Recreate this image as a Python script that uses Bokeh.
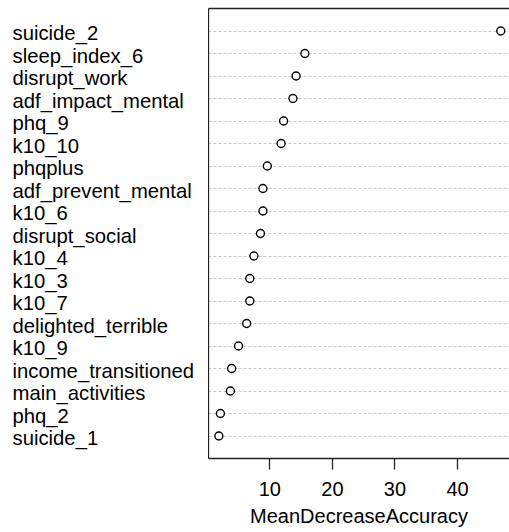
from bokeh.plotting import figure
from bokeh.layouts import row
from bokeh.models import Range1d, FixedTicker, LinearAxis, ColumnDataSource
from bokeh.core.properties import value
from bokeh.embed import file_html
from bokeh.resources import INLINE

# Variable importance, listed top to bottom
variables = [
    "suicide_2", "sleep_index_6", "disrupt_work", "adf_impact_mental", "phq_9",
    "k10_10", "phqplus", "adf_prevent_mental", "k10_6", "disrupt_social",
    "k10_4", "k10_3", "k10_7", "delighted_terrible", "k10_9",
    "income_transitioned", "main_activities", "phq_2", "suicide_1",
]
mean_decrease_accuracy = [
    46.9, 15.6, 14.2, 13.7, 12.2,
    11.8, 9.6, 8.9, 8.9, 8.5,
    7.45, 6.8, 6.8, 6.3, 5.0,
    3.9, 3.7, 2.1, 1.85,
]
x_ticks = [10, 20, 30, 40]

n = len(variables)
rows = [n - i for i in range(n)]  # top variable gets the highest row

src = ColumnDataSource(dict(x=mean_decrease_accuracy, y=rows, name=variables))

FONT = "Liberation Sans"
LABEL_W = 208
TOP, BOTTOM = 8, 74

# ---- panel holding the variable names ----
names = figure(
    width=LABEL_W, height=532,
    x_range=Range1d(0, LABEL_W), y_range=Range1d(0, n + 1),
    output_backend="svg", toolbar_location=None,
    x_axis_location=None, y_axis_location=None,
    min_border_left=0, min_border_right=0, min_border_top=TOP, min_border_bottom=BOTTOM,
)
names.outline_line_color = None
names.grid.visible = False
names.text(x=12, y="y", text="name", source=src,
           text_font=value(FONT), text_font_size="20.3px", text_color="black",
           text_align="left", text_baseline="middle", y_offset=2)

# ---- dot chart ----
p = figure(
    width=509 - LABEL_W, height=532,
    x_range=Range1d(0.2, 48.3), y_range=Range1d(0, n + 1),
    output_backend="svg", toolbar_location=None,
    min_border_left=0, min_border_right=0, min_border_top=TOP, min_border_bottom=BOTTOM,
)
p.outline_line_color = None
p.background_fill_color = "white"
p.border_fill_color = "white"

# dotted guide line for every variable
p.xgrid.visible = False
p.ygrid.ticker = FixedTicker(ticks=rows)
p.ygrid.grid_line_color = "#c8c8c8"
p.ygrid.grid_line_dash = "3 2"
p.ygrid.grid_line_width = 1

# left border (no ticks)
ya = p.left[0]
ya.ticker = FixedTicker(ticks=[])
ya.major_tick_out = 0
ya.major_tick_in = 0
ya.minor_tick_out = 0
ya.minor_tick_in = 0
ya.major_label_text_font_size = "0px"
ya.axis_line_color = "#222222"
ya.axis_line_width = 1.3

# bottom axis
xa = p.below[0]
xa.ticker = FixedTicker(ticks=x_ticks)
xa.major_tick_out = 11
xa.major_tick_in = 0
xa.minor_tick_out = 0
xa.minor_tick_in = 0
xa.major_tick_line_color = "#222222"
xa.major_tick_line_width = 1.3
xa.axis_line_color = "#222222"
xa.axis_line_width = 1.3
xa.major_label_text_font = FONT
xa.major_label_text_font_size = "20px"
xa.major_label_text_color = "black"
xa.major_label_standoff = 12
xa.axis_label = "MeanDecreaseAccuracy"
xa.axis_label_text_font = FONT
xa.axis_label_text_font_size = "20px"
xa.axis_label_text_font_style = "normal"
xa.axis_label_text_color = "black"
xa.axis_label_standoff = 6

# top border
top = LinearAxis(ticker=FixedTicker(ticks=[]), major_tick_out=0, major_tick_in=0,
                 minor_tick_out=0, minor_tick_in=0, major_label_text_font_size="0px",
                 axis_line_color="#222222", axis_line_width=1.3)
p.add_layout(top, "above")

# points
p.scatter("x", "y", source=src, size=8, marker="circle",
          fill_color="white", line_color="black", line_width=1.4)

layout = row(names, p)
open("out.html", "w").write(file_html(layout, INLINE))
